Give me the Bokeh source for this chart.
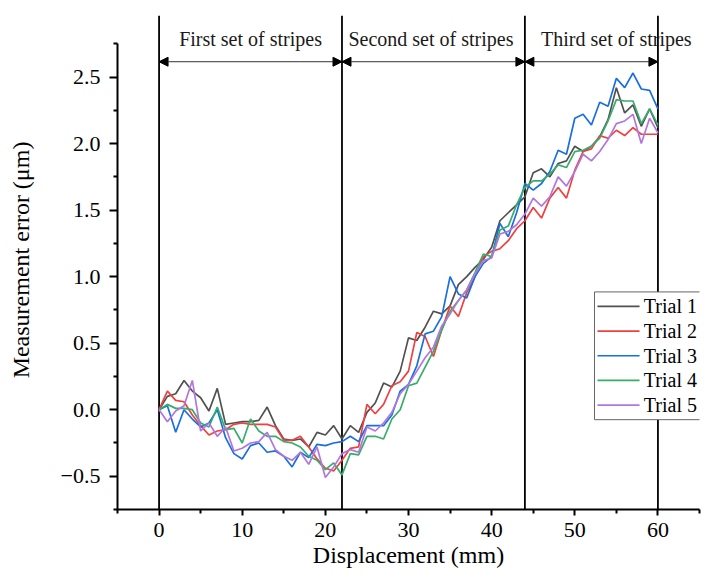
from bokeh.plotting import figure
from bokeh.models import FixedTicker, Arrow, NormalHead, ColumnDataSource
from bokeh.core.properties import value
from bokeh.embed import file_html
from bokeh.resources import INLINE

# ---------------- data ----------------
displacement = list(range(61))

trial_1 = [0.00, 0.10, 0.12, 0.22, 0.14, 0.09, -0.01, 0.16, -0.11, -0.10,
           -0.09, -0.09, -0.08, 0.02, -0.12, -0.22, -0.23, -0.22, -0.28, -0.17,
           -0.19, -0.12, -0.22, -0.12, -0.17, -0.02, 0.05, 0.20, 0.17, 0.29,
           0.54, 0.52, 0.62, 0.74, 0.72, 0.78, 0.94, 1.00, 1.07, 1.13,
           1.22, 1.42, 1.48, 1.54, 1.60, 1.78, 1.81, 1.75, 1.85, 1.87,
           1.98, 1.94, 1.98, 2.05, 2.18, 2.42, 2.23, 2.29, 2.13, 2.26, 2.12]
trial_2 = [0.00, 0.14, 0.07, 0.06, -0.04, -0.12, -0.19, -0.16, -0.15, -0.11,
           -0.10, -0.11, -0.11, -0.11, -0.13, -0.23, -0.23, -0.20, -0.28, -0.37,
           -0.44, -0.46, -0.38, -0.29, -0.28, 0.04, -0.03, 0.04, 0.18, 0.21,
           0.29, 0.58, 0.55, 0.40, 0.60, 0.78, 0.70, 0.88, 1.00, 1.15,
           1.19, 1.21, 1.27, 1.36, 1.42, 1.52, 1.44, 1.59, 1.67, 1.59,
           1.80, 1.94, 1.96, 2.06, 2.04, 2.10, 2.06, 2.12, 2.07, 2.07, 2.07]
trial_3 = [0.00, 0.03, -0.17, 0.00, -0.07, -0.13, -0.10, 0.00, -0.21, -0.33,
           -0.37, -0.27, -0.25, -0.32, -0.31, -0.35, -0.43, -0.32, -0.36, -0.26,
           -0.27, -0.25, -0.24, -0.20, -0.24, -0.12, -0.12, -0.12, -0.04, 0.14,
           0.19, 0.33, 0.57, 0.59, 0.70, 1.00, 0.87, 0.84, 1.00, 1.10,
           1.15, 1.40, 1.30, 1.48, 1.70, 1.65, 1.70, 1.79, 1.95, 1.92,
           2.19, 2.22, 2.14, 2.31, 2.28, 2.49, 2.42, 2.53, 2.41, 2.40, 2.26]
trial_4 = [0.00, 0.04, 0.01, 0.01, 0.00, -0.10, -0.13, 0.02, -0.15, -0.14,
           -0.25, -0.07, -0.16, -0.20, -0.20, -0.24, -0.25, -0.28, -0.35, -0.38,
           -0.45, -0.40, -0.49, -0.33, -0.34, -0.20, -0.20, -0.22, -0.07, 0.00,
           0.18, 0.20, 0.32, 0.44, 0.60, 0.74, 0.82, 0.90, 1.03, 1.17,
           1.15, 1.35, 1.38, 1.54, 1.67, 1.72, 1.72, 1.77, 1.84, 1.82,
           1.94, 1.95, 1.98, 2.04, 2.17, 2.33, 2.32, 2.32, 2.15, 2.26, 2.14]
trial_5 = [0.00, -0.09, -0.01, 0.03, 0.22, -0.16, -0.10, -0.20, -0.13, -0.31,
           -0.29, -0.25, -0.24, -0.17, -0.30, -0.35, -0.38, -0.32, -0.41, -0.28,
           -0.51, -0.43, -0.33, -0.30, -0.32, -0.13, -0.16, -0.10, -0.02, 0.12,
           0.19, 0.29, 0.39, 0.47, 0.63, 0.72, 0.82, 0.90, 1.02, 1.12,
           1.14, 1.32, 1.34, 1.39, 1.47, 1.59, 1.53, 1.60, 1.75, 1.68,
           1.79, 1.92, 1.87, 1.94, 2.03, 2.15, 2.17, 2.22, 2.00, 2.19, 2.08]

series_names = ["Trial 1", "Trial 2", "Trial 3", "Trial 4", "Trial 5"]
series_values = [trial_1, trial_2, trial_3, trial_4, trial_5]

section_bounds = [0, 22, 44, 60]
section_labels = ["First set of stripes", "Second set of stripes", "Third set of stripes"]

x_ticks = [0, 10, 20, 30, 40, 50, 60]
x_tick_labels = ["0", "10", "20", "30", "40", "50", "60"]
y_ticks = [-0.5, 0.0, 0.5, 1.0, 1.5, 2.0, 2.5]
y_tick_labels = ["\u22120.5", "0.0", "0.5", "1.0", "1.5", "2.0", "2.5"]

# ---------------- style ----------------
colors = ["#515151", "#F14040", "#1A6FDF", "#37AD6B", "#B177DE"]
FONT = "Liberation Serif"

p = figure(width=702, height=570, x_range=(-5, 65), y_range=(-0.75, 3.0),
           output_backend="svg", toolbar_location=None,
           min_border_left=117, min_border_right=3,
           min_border_top=10, min_border_bottom=60)
p.outline_line_color = None
p.grid.visible = False
p.background_fill_color = "white"

# axes
p.xaxis.ticker = FixedTicker(ticks=x_ticks, minor_ticks=[t + 5 for t in [-10] + x_ticks])
p.yaxis.ticker = FixedTicker(ticks=y_ticks, minor_ticks=[t + 0.25 for t in [-1.0] + y_ticks])
p.xaxis.major_label_overrides = {t: l for t, l in zip(x_ticks, x_tick_labels)}
p.yaxis.major_label_overrides = {t: l for t, l in zip(y_ticks, y_tick_labels)}
p.yaxis.bounds = (-0.75, 2.75)

for ax in (p.xaxis[0], p.yaxis[0]):
    ax.axis_line_width = 2
    ax.axis_line_color = "black"
    ax.major_tick_line_width = 2
    ax.minor_tick_line_width = 2
    ax.major_tick_in = 0
    ax.minor_tick_in = 0
    ax.major_label_text_font = FONT
    ax.major_label_text_font_size = "22px"
    ax.major_label_text_color = "black"
    ax.axis_label_text_font = FONT
    ax.axis_label_text_font_size = "24px"
    ax.axis_label_text_font_style = "normal"
    ax.axis_label_text_color = "black"

p.xaxis.major_tick_out = 6
p.xaxis.minor_tick_out = 4
p.xaxis.major_label_standoff = 7
p.xaxis.axis_label_standoff = 2
p.xaxis.axis_label = "Displacement (mm)"

p.yaxis.major_tick_out = 8
p.yaxis.minor_tick_out = 4
p.yaxis.major_label_standoff = 9
p.yaxis.axis_label_standoff = 24
p.yaxis.axis_label = "Measurement error (\u03bcm)"

# section boundaries
n = len(section_bounds)
p.segment(x0=section_bounds, x1=section_bounds,
          y0=[-0.75] * n, y1=[2.96] * n,
          line_color="black", line_width=1.8)

# arrows between boundaries
arrow_y = 2.615
for a, b in zip(section_bounds[:-1], section_bounds[1:]):
    p.add_layout(Arrow(x_start=a, y_start=arrow_y, x_end=b, y_end=arrow_y,
                       line_color="#333333", line_width=1,
                       start=NormalHead(size=9, fill_color="black", line_color="black"),
                       end=NormalHead(size=9, fill_color="black", line_color="black")))

label_x = [11, 32.7, 55]
txt_src = ColumnDataSource(dict(x=label_x, y=[2.785] * 3, text=section_labels))
p.text(x="x", y="y", text="text", source=txt_src,
       text_font=value(FONT), text_font_size="20px", text_color="#1a1a1a",
       text_align="center", text_baseline="middle")

# series
for name, vals, col in zip(series_names, series_values, colors):
    p.line(displacement, vals, line_color=col, line_width=1.7)

# legend (drawn by hand so that its labels use the serif font)
LEG_BOX = (52.37, 65.2, -0.075, 0.885)      # left, right, bottom, top
LEG_FIRST_Y, LEG_STEP = 0.776, 0.1853
LEG_LINE_X = (52.73, 57.79)
LEG_TEXT_X = 58.3
p.quad(left=[LEG_BOX[0]], right=[LEG_BOX[1]], bottom=[LEG_BOX[2]], top=[LEG_BOX[3]],
       fill_color="white", line_color="#666666", line_width=1)
k = len(series_names)
leg_y = [LEG_FIRST_Y - i * LEG_STEP for i in range(k)]
p.segment(x0=[LEG_LINE_X[0]] * k, x1=[LEG_LINE_X[1]] * k, y0=leg_y, y1=leg_y,
          line_color=colors, line_width=1.7)
p.text(x=[LEG_TEXT_X] * k, y=leg_y, text=series_names,
       text_font=value(FONT), text_font_size="20px", text_color="black",
       text_align="left", text_baseline="middle")

open("out.html", "w").write(file_html(p, INLINE))
